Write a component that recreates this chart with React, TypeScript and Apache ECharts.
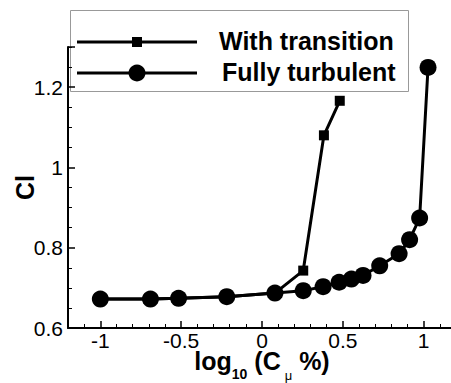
import React, { useEffect, useRef } from "react";
import * as echarts from "echarts";

// log10 of the blowing coefficient (percent) and the resulting lift coefficient
const turbulentX = [-1.0, -0.69, -0.516, -0.218, 0.08, 0.255, 0.378, 0.477, 0.553, 0.625, 0.728, 0.848, 0.913, 0.975, 1.027];
const turbulentCl = [0.672, 0.672, 0.674, 0.678, 0.687, 0.693, 0.703, 0.714, 0.722, 0.731, 0.755, 0.785, 0.82, 0.874, 1.249];

const transitionX = [-1.0, -0.69, -0.516, -0.218, 0.08, 0.255, 0.383, 0.481];
const transitionCl = [0.672, 0.672, 0.674, 0.678, 0.687, 0.743, 1.08, 1.166];

const seriesNames = ["With transition", "Fully turbulent"];

const FONT = "'Liberation Sans', Arial, Helvetica, sans-serif";

const pairs = (xs: number[], ys: number[]) => xs.map((x, i) => [x, ys[i]]);

const tickText = { fontSize: 21, lineHeight: 21, fontFamily: FONT, color: "#000" };

export default function App() {
  const ref = useRef<HTMLDivElement>(null);

  useEffect(() => {
    if (!ref.current) return;
    const chart = echarts.init(ref.current, null, { renderer: "svg" });

    const axisCommon = {
      axisLine: { show: true, onZero: false, lineStyle: { color: "#000", width: 2 } },
      axisTick: { show: true, inside: true, length: 7, lineStyle: { color: "#000", width: 1.5 } },
      splitLine: { show: false },
      nameMoveOverlap: false,
    };

    chart.setOption({
      animation: false,
      backgroundColor: "#fff",
      textStyle: { fontFamily: FONT },
      grid: { left: 68, top: 47, width: 388, height: 281, containLabel: false, outerBoundsMode: "none" },
      xAxis: {
        type: "value",
        min: -1.2,
        max: 1.2,
        splitNumber: 5,
        ...axisCommon,
        minorTick: { show: true, splitNumber: 5, length: 4, lineStyle: { color: "#000", width: 1 } },
        axisLabel: {
          ...tickText,
          margin: 2,
          showMinLabel: false,
          showMaxLabel: false,
          formatter: (v: number) => `{t|${v}}`,
          rich: { t: { ...tickText } },
        },
        name: "{m|log}{s|10}{m| (C}{u|\u03bc}{m| %)}",
        nameLocation: "middle",
        nameGap: 20,
        nameTextStyle: {
          rich: {
            m: { fontSize: 25, fontWeight: "bold", fontFamily: FONT, color: "#000", lineHeight: 30, verticalAlign: "top" },
            s: { fontSize: 14, fontWeight: "bold", fontFamily: FONT, color: "#000", lineHeight: 14, verticalAlign: "top", padding: [19, 0, 0, 0] },
            u: { fontSize: 13, fontFamily: FONT, color: "#000", lineHeight: 13, verticalAlign: "top", padding: [21, 0, 0, 4] },
          },
        },
      },
      yAxis: {
        type: "value",
        min: 0.6,
        max: 1.3,
        interval: 0.2,
        ...axisCommon,
        minorTick: { show: true, splitNumber: 4, length: 4, lineStyle: { color: "#000", width: 1 } },
        axisLabel: {
          ...tickText,
          margin: 5,
          showMaxLabel: false,
          formatter: (v: number) => `{t|${v}}`,
          rich: { t: { ...tickText } },
        },
        name: "Cl",
        nameLocation: "middle",
        nameRotate: 90,
        nameGap: 31,
        nameTextStyle: { fontSize: 25, fontWeight: "bold", fontFamily: FONT, color: "#000" },
      },
      series: [
        {
          name: seriesNames[0],
          type: "line",
          data: pairs(transitionX, transitionCl),
          symbol: "rect",
          symbolSize: 10,
          showAllSymbol: true,
          lineStyle: { color: "#000", width: 3 },
          itemStyle: { color: "#000" },
        },
        {
          name: seriesNames[1],
          type: "line",
          data: pairs(turbulentX, turbulentCl),
          symbol: "circle",
          symbolSize: 17,
          showAllSymbol: true,
          lineStyle: { color: "#000", width: 3 },
          itemStyle: { color: "#000" },
        },
      ],
      graphic: [
        {
          type: "rect",
          shape: { x: 70.5, y: 10.5, width: 338, height: 81 },
          style: { fill: "#fff", stroke: "#999", lineWidth: 1 },
        },
        { type: "line", shape: { x1: 77, y1: 42, x2: 197, y2: 42 }, style: { stroke: "#000", lineWidth: 3 } },
        { type: "rect", shape: { x: 132, y: 37, width: 10, height: 10 }, style: { fill: "#000" } },
        { type: "line", shape: { x1: 77, y1: 73, x2: 197, y2: 73 }, style: { stroke: "#000", lineWidth: 3 } },
        { type: "circle", shape: { cx: 137, cy: 73, r: 8.5 }, style: { fill: "#000" } },
        {
          type: "text",
          x: 219,
          y: 41,
          style: { text: seriesNames[0], fontSize: 25, fontWeight: "bold", fontFamily: FONT, fill: "#000", verticalAlign: "middle" },
        },
        {
          type: "text",
          x: 222,
          y: 72,
          style: { text: seriesNames[1], fontSize: 25, fontWeight: "bold", fontFamily: FONT, fill: "#000", verticalAlign: "middle" },
        },
      ],
    });

    return () => chart.dispose();
  }, []);

  return <div ref={ref} style={{ position: "fixed", left: 0, top: 0, width: 451, height: 383 }} />;
}
